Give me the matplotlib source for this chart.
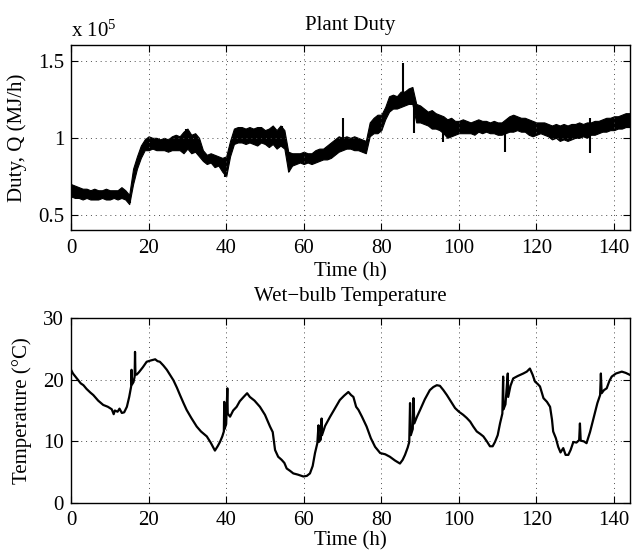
import matplotlib
matplotlib.use("Agg")
import matplotlib.pyplot as plt
import numpy as np

# ---------------- data ----------------
# Plant duty (x 1e5 MJ/h): hourly lower / upper envelope of the noisy trace
duty_t = list(range(0, 145))
duty_lo = [0.62, 0.61, 0.61, 0.60, 0.61, 0.60, 0.60, 0.60, 0.61, 0.60,
           0.60, 0.61, 0.60, 0.61, 0.60, 0.57, 0.70, 0.80, 0.87, 0.92,
           0.92, 0.93, 0.92, 0.92, 0.92, 0.91, 0.92, 0.92, 0.92, 0.90,
           0.93, 0.90, 0.91, 0.88, 0.85, 0.83, 0.84, 0.81, 0.82, 0.78,
           0.75, 0.88, 0.96, 0.97, 0.97, 0.96, 0.97, 0.96, 0.95, 0.97,
           0.96, 0.94, 0.96, 0.93, 0.95, 0.93, 0.78, 0.82, 0.83, 0.84,
           0.83, 0.84, 0.83, 0.84, 0.85, 0.86, 0.86, 0.87, 0.89, 0.91,
           0.92, 0.93, 0.93, 0.92, 0.92, 0.91, 0.90, 1.01, 1.03, 1.03,
           1.05, 1.12, 1.17, 1.19, 1.19, 1.20, 1.21, 1.22, 1.22, 1.10,
           1.10, 1.09, 1.08, 1.06, 1.06, 1.05, 1.03, 1.00, 1.01, 1.02,
           1.03, 1.03, 1.03, 1.03, 1.02, 1.04, 1.03, 1.04, 1.03, 1.03,
           1.02, 1.02, 1.03, 1.04, 1.04, 1.05, 1.04, 1.04, 1.02, 1.01,
           1.02, 1.03, 1.02, 1.01, 0.99, 1.00, 0.98, 0.99, 0.98, 0.99,
           1.00, 1.00, 1.01, 1.00, 1.02, 1.02, 1.03, 1.04, 1.04, 1.05,
           1.05, 1.06, 1.06, 1.07, 1.07]
duty_hi = [0.70, 0.69, 0.68, 0.67, 0.67, 0.66, 0.67, 0.66, 0.66, 0.67,
           0.66, 0.66, 0.66, 0.68, 0.66, 0.63, 0.80, 0.88, 0.95, 0.99,
           1.01, 1.00, 1.00, 0.99, 1.00, 0.99, 1.01, 1.02, 1.01, 1.04,
           1.06, 1.02, 1.03, 1.00, 0.92, 0.89, 0.90, 0.89, 0.88, 0.87,
           0.88, 0.98, 1.06, 1.07, 1.07, 1.06, 1.07, 1.06, 1.07, 1.07,
           1.05, 1.06, 1.08, 1.05, 1.08, 1.05, 0.91, 0.90, 0.90, 0.90,
           0.91, 0.90, 0.90, 0.92, 0.93, 0.93, 0.95, 0.97, 0.99, 1.01,
           1.00, 1.01, 1.00, 1.01, 1.00, 0.99, 0.98, 1.10, 1.13, 1.15,
           1.15, 1.20, 1.27, 1.28, 1.27, 1.30, 1.30, 1.32, 1.33, 1.22,
           1.21, 1.19, 1.17, 1.18, 1.16, 1.15, 1.14, 1.12, 1.13, 1.11,
           1.11, 1.12, 1.11, 1.10, 1.11, 1.12, 1.11, 1.11, 1.10, 1.11,
           1.10, 1.10, 1.12, 1.14, 1.15, 1.14, 1.13, 1.13, 1.12, 1.11,
           1.10, 1.10, 1.10, 1.09, 1.08, 1.09, 1.08, 1.09, 1.08, 1.09,
           1.09, 1.10, 1.09, 1.10, 1.10, 1.11, 1.11, 1.12, 1.13, 1.13,
           1.14, 1.14, 1.15, 1.16, 1.16]
# isolated spikes in the duty trace
spike_t = [15.2, 29.6, 39.7, 54.5, 56.3, 70.1, 85.6, 88.4, 96.0, 111.9, 133.8]
spike_lo = [0.577, 0.95, 0.745, 1.00, 0.78, 0.98, 1.25, 1.03, 0.97, 0.91, 0.90]
spike_hi = [0.63, 1.057, 0.85, 1.08, 0.91, 1.13, 1.485, 1.25, 1.12, 1.08, 1.13]

# Wet-bulb temperature (deg C)
wb_t = [0.0, 0.5, 1.0, 1.5, 2.0, 2.5, 3.2, 4.0, 5.0, 5.75, 7.0, 8.3, 9.5, 10.5,
        11.0, 11.3, 12.0, 12.5, 13.1, 13.7, 14.4, 15.0, 15.5, 15.6, 15.7, 16.1,
        16.4, 16.5, 16.6, 16.9, 17.5, 18.5, 19.5, 20.5, 21.7, 22.3, 22.9, 23.8,
        24.7, 25.5, 26.4, 27.3, 28.1, 29.0, 29.8, 31.0, 32.4, 33.5, 35.0, 36.0,
        37.1, 37.8, 38.4, 39.0, 39.4, 39.5, 39.6, 40.0, 40.3, 40.4, 41.0, 41.8,
        42.7, 43.5, 44.5, 45.4, 46.1, 47.3, 48.7, 50.0, 51.3, 52.0, 52.6, 53.4,
        54.3, 55.0, 55.6, 56.5, 57.3, 58.5, 59.9, 60.8, 61.6, 62.3, 62.9, 63.5,
        63.8, 63.9, 64.4, 64.6, 64.7, 65.5, 66.8, 68.0, 69.3, 70.4, 71.5, 72.2,
        72.8, 73.5, 74.1, 75.0, 76.2, 77.3, 78.4, 79.7, 81.0, 82.2, 83.5, 84.8,
        85.5, 86.1, 86.8, 87.2, 87.4, 87.6, 88.1, 88.3, 88.5, 89.2, 90.0, 91.2,
        92.5, 93.4, 94.3, 95.1, 96.0, 96.9, 98.0, 99.0, 100.0, 101.1, 102.0,
        102.9, 103.7, 104.6, 105.5, 106.3, 107.2, 108.0, 108.7, 109.3, 110.0,
        110.6, 111.2, 111.4, 111.5, 112.0, 112.6, 112.7, 113.3, 114.0, 115.2,
        116.6, 117.5, 118.3, 119.0, 119.6, 120.3, 120.9, 121.8, 122.7, 123.5,
        124.0, 124.3, 125.0, 125.6, 126.2, 126.9, 127.5, 128.2, 128.8, 129.5,
        130.3, 131.0, 131.2, 131.4, 132.2, 132.9, 133.8, 134.6, 135.7, 136.4,
        136.6, 136.8, 137.4, 138.1, 138.8, 139.4, 140.5, 142.0, 143.0, 144.0]
wb_v = [21.6, 21.0, 20.6, 20.2, 19.8, 19.4, 19.1, 18.5, 17.9, 17.5, 16.6, 15.9, 15.6, 15.2,
        14.4, 15.0, 14.8, 15.3, 14.6, 14.7, 15.6, 17.2, 18.9, 21.6, 19.2, 19.6,
        20.5, 24.5, 21.0, 20.8, 21.2, 22.0, 22.9, 23.1, 23.3, 23.0, 22.9, 22.3,
        21.6, 20.8, 19.9, 18.7, 17.5, 16.2, 15.1, 13.8, 12.4, 11.6, 10.8, 9.8,
        8.5, 9.2, 9.9, 10.8, 11.6, 16.4, 12.0, 12.8, 18.6, 14.5, 14.0, 15.0,
        15.6, 16.5, 17.2, 17.8, 17.2, 16.6, 15.6, 14.3, 12.4, 11.5, 8.6, 7.5,
        7.0, 6.5, 5.6, 5.2, 4.8, 4.6, 4.3, 4.4, 4.8, 6.0, 8.1, 9.7,
        12.6, 9.9, 10.3, 13.7, 11.0, 12.5, 14.0, 15.3, 16.7, 17.4, 18.0, 17.5,
        17.2, 15.6, 15.1, 14.0, 12.4, 10.5, 9.1, 8.1, 7.9, 7.5, 6.9, 6.4,
        7.0, 7.8, 9.0, 9.9, 16.2, 11.0, 12.0, 17.0, 12.9, 14.0, 15.1, 16.8,
        18.3, 18.8, 19.1, 19.0, 18.3, 17.5, 16.4, 15.4, 14.8, 14.3, 13.8,
        13.2, 12.4, 11.6, 11.2, 10.8, 10.0, 9.2, 9.2, 9.9, 11.0,
        12.9, 14.5, 20.5, 15.2, 16.0, 21.0, 17.2, 19.0, 20.2, 20.6,
        21.0, 21.3, 21.8, 20.8, 19.7, 19.3, 18.9, 17.0, 16.4, 15.6,
        13.5, 11.6, 10.5, 9.1, 8.2, 8.9, 7.8, 7.8, 8.6, 9.9,
        9.8, 10.2, 12.9, 10.1, 10.0, 9.7, 11.5, 13.5, 16.2, 17.5,
        21.0, 17.8, 18.3, 18.6, 19.8, 20.5, 21.0, 21.3, 21.1, 20.8]

duty_yticks = [0.5, 1.0, 1.5]
duty_yticklabels = ["0.5", "1", "1.5"]
wb_yticks = [0, 10, 20, 30]
x_ticks = [0, 20, 40, 60, 80, 100, 120, 140]

# ---------------- style ----------------
plt.rcParams['font.family'] = ['Liberation Serif', 'DejaVu Serif']
plt.rcParams['mathtext.fontset'] = 'custom'
plt.rcParams['mathtext.rm'] = 'Liberation Serif'
plt.rcParams['mathtext.it'] = 'Liberation Serif:italic'
FS = 15

fig = plt.figure(figsize=(6.33, 5.53), dpi=100)
ax1 = fig.add_axes([0.1122, 0.5835, 0.8824, 0.3345])
ax2 = fig.add_axes([0.1122, 0.0904, 0.8824, 0.3346])


def style(ax):
    ax.set_xlim(0, 144)
    ax.set_xticks(x_ticks)
    ax.tick_params(direction='in', top=True, right=True, length=5, width=0.8,
                   labelsize=FS, colors='black')
    ax.tick_params(axis='x', pad=6)
    ax.tick_params(axis='y', pad=5)
    ax.grid(True, linestyle=(0, (1, 4)), color='0.3', linewidth=0.7)
    for s in ax.spines.values():
        s.set_linewidth(1.0)
        s.set_color('black')


# top panel
ax1.fill_between(duty_t, duty_lo, duty_hi, color='black', linewidth=0.8,
                 edgecolor='black')
ax1.vlines(spike_t, spike_lo, spike_hi, color='black', linewidth=1.5)
style(ax1)
ax1.set_ylim(0.4, 1.6)
ax1.set_yticks(duty_yticks)
ax1.set_yticklabels(duty_yticklabels)
ax1.set_title('Plant Duty', fontsize=FS, pad=11)
ax1.set_xlabel('Time (h)', fontsize=FS, labelpad=3)
ax1.set_ylabel('Duty, Q (MJ/h)', fontsize=FS, labelpad=8)
ax1.text(0.0, 1.045, r'x 10$^{5}$', transform=ax1.transAxes, fontsize=FS,
         ha='left', va='baseline')

# bottom panel
ax2.plot(wb_t, wb_v, color='black', linewidth=1.6)
style(ax2)
ax2.set_ylim(0, 30)
ax2.set_yticks(wb_yticks)
ax2.set_title('Wet\u2212bulb Temperature', fontsize=FS, pad=12)
ax2.set_xlabel('Time (h)', fontsize=FS, labelpad=0.5)
ax2.set_ylabel('Temperature (\u00b0C)', fontsize=FS, labelpad=8)

fig.savefig('out.png', dpi=100)
